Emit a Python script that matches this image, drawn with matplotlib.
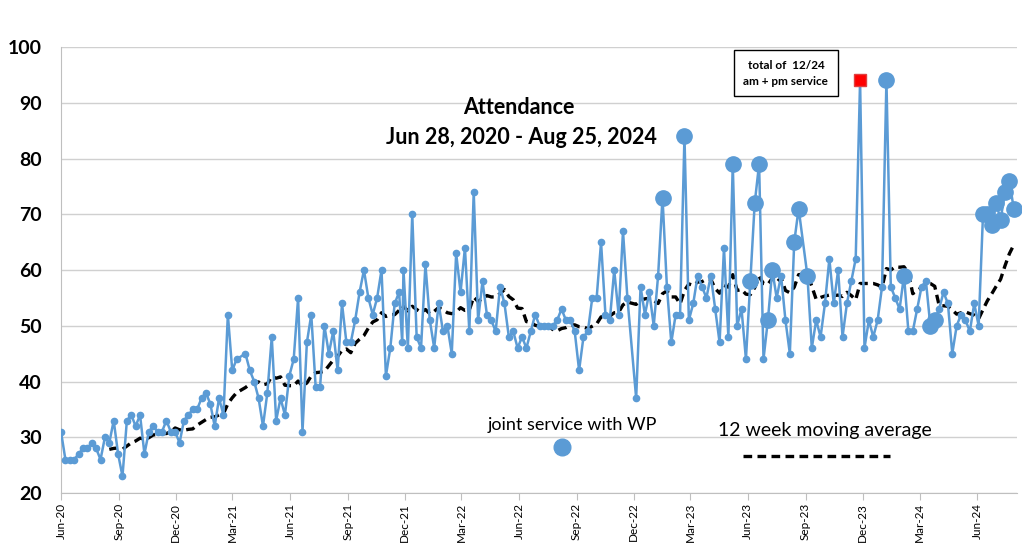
import numpy as np
import pandas as pd
import matplotlib
matplotlib.use("Agg")
import matplotlib.pyplot as plt
import matplotlib.dates as mdates

plt.rcParams['font.family'] = ['Lato', 'DejaVu Sans']

# weekly Sunday attendance, Jun 28 2020 - Aug 25 2024 (None = no count that week)
weekly = [
    31, 26, 26, 26, 27, 28, 28, 29, 28, 26,
    30, 29, 33, 27, 23, 33, 34, 32, 34, 27,
    31, 32, 31, 31, 33, 31, 31, 29, 33, 34,
    35, 35, 37, 38, 36, 32, 37, 34, 52, 42,
    44, None, 45, 42, 40, 37, 32, 38, 48, 33,
    37, 34, 41, 44, 55, 31, 47, 52, 39, 39,
    50, 45, 49, 42, 54, 47, 47, 51, 56, 60,
    55, 52, 55, 60, 41, 46, 54, 56, 60, 46,
    70, 48, 46, 61, 51, 46, 54, 49, 50, 45,
    63, 56, 64, 49, 74, 51, 58, 52, 51, 49,
    57, 54, 48, 49, 46, 48, 46, 49, 52, 50,
    50, 50, 50, 51, 53, 51, 51, 49, 42, 48,
    49, 55, 55, 65, 52, 51, 60, 52, 67, 55,
    None, 37, 57, 52, 56, 50, 59, 73, 57, 47,
    52, 52, 84, 51, 54, 59, 57, 55, 59, 53,
    47, 64, 48, 79, 50, 53, 44, 58, 72, 79,
    44, 51, 60, 55, 59, 51, 45, 65, 71, None,
    59, 46, 51, 48, 54, 62, 54, 60, 48, 54,
    58, 62, 94, 46, 51, 48, 51, 57, 94, 57,
    55, 53, 59, 49, 49, 53, 57, 58, 50, 51,
    53, 56, 54, 45, 50, 52, 51, 49, 54, 50,
    70, 70, 68, 72, 69, 74, 76, 71,
]

# Christmas Eve service that is not on a Sunday
extra_dates = ['2021-12-24']
extra_values = [47]

# weeks (index into weekly) with a joint service with WP
joint_weeks = [137, 142, 153, 157, 158, 159, 161, 162, 167, 168, 170,
               188, 192, 198, 199, 210, 211, 212, 213, 214, 215, 216, 217]
# 12/24/2023 : total of am + pm service
red_week = 182

sundays = pd.date_range('2020-06-28', '2024-08-25', freq='7D')
weeks = pd.Series(weekly, index=sundays, dtype=float)

att = pd.concat([weeks.dropna(),
                 pd.Series(extra_values, index=pd.to_datetime(extra_dates), dtype=float)])
att = att.sort_index()
mov_avg = att.rolling(12).mean()

joint = weeks.iloc[joint_weeks]
red = weeks.iloc[[red_week]]

blue = '#5B9BD5'

fig = plt.figure(figsize=(10.22, 5.55), dpi=100)
ax = fig.add_axes([0.0597, 0.1117, 0.9353, 0.8036])

ax.plot(mov_avg.index, mov_avg.values, color='black', lw=2.4,
        ls=(0, (2.6, 1.6)), zorder=2)
ax.plot(att.index, att.values, color=blue, lw=1.8, marker='o', ms=4.5, zorder=3)
ax.plot(joint.index, joint.values, 'o', color=blue, ms=11, zorder=4, clip_on=False)
ax.plot(red.index, red.values, 's', color='#ff0000', mec='#e04040', ms=9, zorder=5)

ax.set_ylim(20, 100)
ax.set_yticks(range(20, 101, 10))
ax.set_xlim(pd.Timestamp('2020-06-28'), pd.Timestamp('2024-08-30'))
ticks = [pd.Timestamp('2020-06-28') + pd.DateOffset(months=3 * k) for k in range(17)]
ax.set_xticks(ticks)
ax.xaxis.set_major_formatter(mdates.DateFormatter('%b-%y'))
plt.setp(ax.get_xticklabels(), rotation=90, fontsize=8.5)
ax.tick_params(axis='x', direction='out', length=5, color='#bfbfbf', pad=2)
ax.tick_params(axis='y', length=0, pad=14, labelsize=14)
for lbl in ax.get_yticklabels():
    lbl.set_fontweight('bold')

ax.grid(axis='y', color='#d0d0d0', lw=1)
ax.set_axisbelow(True)
for side in ['top', 'right']:
    ax.spines[side].set_visible(False)
ax.spines['left'].set_color('#bfbfbf')
ax.spines['bottom'].set_color('#bfbfbf')

# title
fig.text(0.508, 0.807, 'Attendance', ha='center', va='center',
         fontsize=15.5, fontweight='bold')
fig.text(0.510, 0.753, 'Jun 28, 2020 - Aug 25, 2024', ha='center', va='center',
         fontsize=15.5, fontweight='bold')

# note box for the red square
fig.text(0.769, 0.868, 'total of  12/24\nam + pm service', ha='center', va='center',
         fontsize=8.5, fontweight='bold', linespacing=1.6,
         bbox=dict(boxstyle='square,pad=0.8', fc='white', ec='black', lw=1))

# legend-like annotations
ax.text(0.535, 0.152, 'joint service with WP', transform=ax.transAxes,
        ha='center', va='center', fontsize=13)
ax.plot([0.524], [0.103], 'o', color=blue, ms=12, transform=ax.transAxes, clip_on=False)
ax.text(0.799, 0.141, '12 week moving average', transform=ax.transAxes,
        ha='center', va='center', fontsize=14)
ax.plot([0.713, 0.867], [0.083, 0.083], color='black', lw=2.4, ls=(0, (2.6, 1.6)),
        transform=ax.transAxes)

fig.savefig('out.png', dpi=100)
